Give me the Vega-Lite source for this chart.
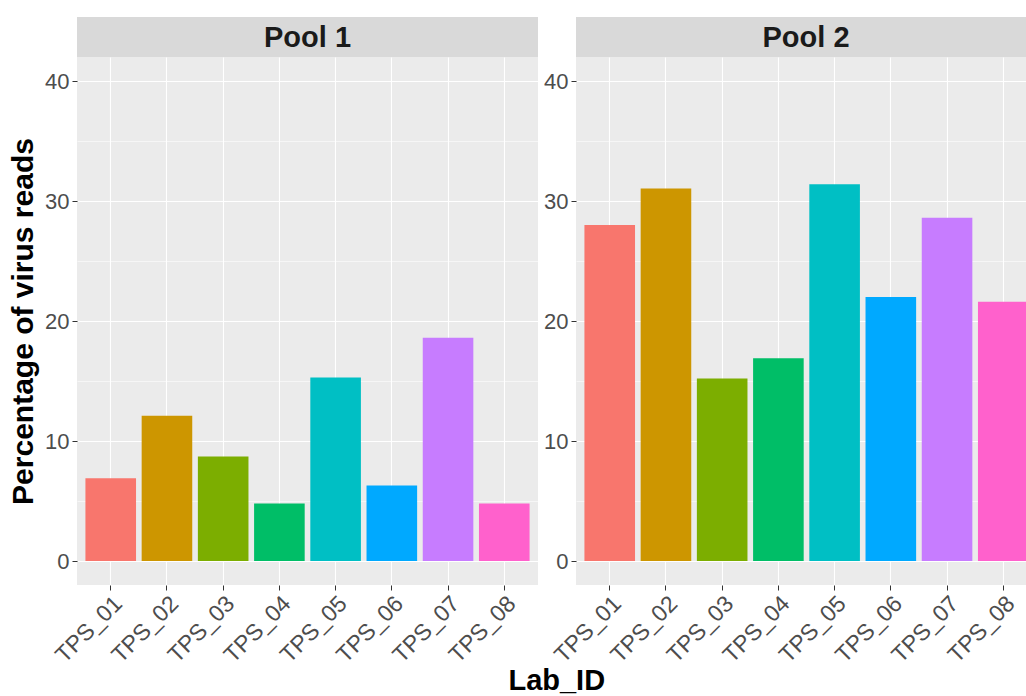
{
  "$schema": "https://vega.github.io/schema/vega-lite/v6.json",
  "background": "white",
  "padding": {"top": 17, "left": 8, "right": 0, "bottom": 2},
  "datasets": {
    "reads": [
      {"Pool": "Pool 1", "Lab_ID": "TPS_01", "Percent": 6.9},
      {"Pool": "Pool 1", "Lab_ID": "TPS_02", "Percent": 12.1},
      {"Pool": "Pool 1", "Lab_ID": "TPS_03", "Percent": 8.7},
      {"Pool": "Pool 1", "Lab_ID": "TPS_04", "Percent": 4.8},
      {"Pool": "Pool 1", "Lab_ID": "TPS_05", "Percent": 15.3},
      {"Pool": "Pool 1", "Lab_ID": "TPS_06", "Percent": 6.3},
      {"Pool": "Pool 1", "Lab_ID": "TPS_07", "Percent": 18.6},
      {"Pool": "Pool 1", "Lab_ID": "TPS_08", "Percent": 4.8},
      {"Pool": "Pool 2", "Lab_ID": "TPS_01", "Percent": 28.0},
      {"Pool": "Pool 2", "Lab_ID": "TPS_02", "Percent": 31.05},
      {"Pool": "Pool 2", "Lab_ID": "TPS_03", "Percent": 15.2},
      {"Pool": "Pool 2", "Lab_ID": "TPS_04", "Percent": 16.9},
      {"Pool": "Pool 2", "Lab_ID": "TPS_05", "Percent": 31.4},
      {"Pool": "Pool 2", "Lab_ID": "TPS_06", "Percent": 22.0},
      {"Pool": "Pool 2", "Lab_ID": "TPS_07", "Percent": 28.6},
      {"Pool": "Pool 2", "Lab_ID": "TPS_08", "Percent": 21.6}
    ]
  },
  "title": {
    "text": "Lab_ID",
    "orient": "bottom",
    "anchor": "middle",
    "dx": 34,
    "offset": 0,
    "font": "Liberation Sans",
    "fontSize": 29,
    "fontWeight": "bold",
    "color": "black"
  },
  "spacing": 5,
  "hconcat": [
    {
      "spacing": 0,
      "vconcat": [
        {
          "width": 461,
          "height": 40,
          "view": {"fill": "#D9D9D9", "stroke": null},
          "data": {"values": [{"Pool": "Pool 1"}]},
          "mark": {"type": "text", "font": "Liberation Sans", "fontSize": 29, "fontWeight": "bold", "color": "#1A1A1A", "baseline": "middle", "dy": 1},
          "encoding": {"text": {"field": "Pool"}}
        },
        {
          "width": 461,
          "height": 528,
          "view": {"fill": "#EBEBEB", "stroke": null},
          "data": {"name": "reads"},
          "transform": [{"filter": "datum.Pool === 'Pool 1'"}],
          "mark": {"type": "bar"},
          "encoding": {
            "x": {
              "field": "Lab_ID",
              "type": "nominal",
              "scale": {"paddingInner": 0.1, "paddingOuter": 0.15},
              "axis": {
                "title": null,
                "bandPosition": 0.5,
                "domain": false,
                "grid": true,
                "gridColor": "white",
                "gridWidth": 1.1,
                "tickColor": "#333333",
                "tickSize": 5,
                "labelAngle": -45,
                "labelAlign": "right",
                "labelBaseline": "top",
                "labelFont": "Liberation Sans",
                "labelFontSize": 23,
                "labelColor": "#4D4D4D",
                "labelPadding": 2
              }
            },
            "y": {
              "field": "Percent",
              "type": "quantitative",
              "scale": {"domain": [-2, 42], "nice": false, "zero": false},
              "axis": {
                "title": "Percentage of virus reads",
                "titleFont": "Liberation Sans",
                "titleFontSize": 30,
                "titleFontWeight": "bold",
                "titleColor": "black",
                "titlePadding": 6,
                "values": [0, 5, 10, 15, 20, 25, 30, 35, 40],
                "labelExpr": "datum.value % 10 === 0 ? datum.label : ''",
                "domain": false,
                "grid": true,
                "gridColor": "white",
                "gridWidth": {"condition": {"test": "datum.value % 10 === 0", "value": 1.1}, "value": 0.55},
                "tickColor": "#333333",
                "tickSize": 5,
                "tickOpacity": {"condition": {"test": "datum.value % 10 === 0", "value": 1}, "value": 0},
                "labelFont": "Liberation Sans",
                "labelFontSize": 22,
                "labelColor": "#4D4D4D",
                "labelPadding": 3
              }
            },
            "color": {
              "field": "Lab_ID",
              "type": "nominal",
              "legend": null,
              "scale": {
                "domain": ["TPS_01", "TPS_02", "TPS_03", "TPS_04", "TPS_05", "TPS_06", "TPS_07", "TPS_08"],
                "range": ["#F8766D", "#CD9600", "#7CAE00", "#00BE67", "#00BFC4", "#00A9FF", "#C77CFF", "#FF61CC"]
              }
            }
          }
        }
      ]
    },
    {
      "spacing": 0,
      "vconcat": [
        {
          "width": 450,
          "height": 40,
          "view": {"fill": "#D9D9D9", "stroke": null},
          "data": {"values": [{"Pool": "Pool 2"}]},
          "mark": {"type": "text", "font": "Liberation Sans", "fontSize": 29, "fontWeight": "bold", "color": "#1A1A1A", "baseline": "middle", "dx": 5, "dy": 1},
          "encoding": {"text": {"field": "Pool"}}
        },
        {
          "width": 450,
          "height": 528,
          "view": {"fill": "#EBEBEB", "stroke": null},
          "data": {"name": "reads"},
          "transform": [{"filter": "datum.Pool === 'Pool 2'"}],
          "mark": {"type": "bar", "clip": true},
          "encoding": {
            "x": {
              "field": "Lab_ID",
              "type": "nominal",
              "scale": {"paddingInner": 0.1, "paddingOuter": 0.15, "range": [0, 461]},
              "axis": {
                "title": null,
                "bandPosition": 0.5,
                "domain": false,
                "grid": true,
                "gridColor": "white",
                "gridWidth": 1.1,
                "tickColor": "#333333",
                "tickSize": 5,
                "labelAngle": -45,
                "labelAlign": "right",
                "labelBaseline": "top",
                "labelFont": "Liberation Sans",
                "labelFontSize": 23,
                "labelColor": "#4D4D4D",
                "labelPadding": 2
              }
            },
            "y": {
              "field": "Percent",
              "type": "quantitative",
              "scale": {"domain": [-2, 42], "nice": false, "zero": false},
              "axis": {
                "title": null,
                "values": [0, 5, 10, 15, 20, 25, 30, 35, 40],
                "labelExpr": "datum.value % 10 === 0 ? datum.label : ''",
                "domain": false,
                "grid": true,
                "gridColor": "white",
                "gridWidth": {"condition": {"test": "datum.value % 10 === 0", "value": 1.1}, "value": 0.55},
                "tickColor": "#333333",
                "tickSize": 5,
                "tickOpacity": {"condition": {"test": "datum.value % 10 === 0", "value": 1}, "value": 0},
                "labelFont": "Liberation Sans",
                "labelFontSize": 22,
                "labelColor": "#4D4D4D",
                "labelPadding": 3
              }
            },
            "color": {
              "field": "Lab_ID",
              "type": "nominal",
              "legend": null,
              "scale": {
                "domain": ["TPS_01", "TPS_02", "TPS_03", "TPS_04", "TPS_05", "TPS_06", "TPS_07", "TPS_08"],
                "range": ["#F8766D", "#CD9600", "#7CAE00", "#00BE67", "#00BFC4", "#00A9FF", "#C77CFF", "#FF61CC"]
              }
            }
          }
        }
      ]
    }
  ],
  "resolve": {"scale": {"x": "independent", "y": "independent"}},
  "config": {"axis": {"labelOverlap": false}}
}
